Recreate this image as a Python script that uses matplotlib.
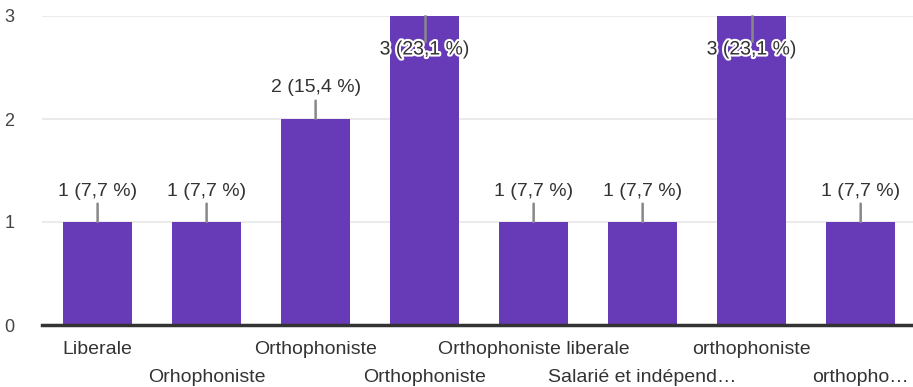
import matplotlib
matplotlib.use('Agg')
import matplotlib.pyplot as plt
import matplotlib.patheffects as pe

plt.rcParams['font.family'] = ['Liberation Sans', 'DejaVu Sans']

categories = ['Liberale', 'Orhophoniste', 'Orthophoniste', 'Orthophoniste',
              'Orthophoniste liberale', 'Salarié et indépend…', 'orthophoniste', 'orthopho…']
counts = [1, 1, 2, 3, 1, 1, 3, 1]
pct_labels = ['1 (7,7 %)', '1 (7,7 %)', '2 (15,4 %)', '3 (23,1 %)',
              '1 (7,7 %)', '1 (7,7 %)', '3 (23,1 %)', '1 (7,7 %)']
yticks = [0, 1, 2, 3]

fig = plt.figure(figsize=(9.13, 3.87), dpi=100)
ax = fig.add_axes([42/913, 62/387, 1 - 42/913, 309/387])

x = list(range(len(categories)))
ax.bar(x, counts, width=0.635, color='#673ab7', zorder=2)
ax.set_xlim(-0.51, 7.48)
ax.set_ylim(0, 3)

ax.set_yticks(yticks)
ax.set_yticklabels([str(v) for v in yticks], fontsize=13, color='#444444')
ax.grid(axis='y', color='#ebebeb', linewidth=1.5, zorder=0)
ax.tick_params(axis='y', length=0, pad=20)
ax.tick_params(axis='x', length=0)
for s in ['top', 'right', 'left']:
    ax.spines[s].set_visible(False)
ax.spines['bottom'].set_color('#333333')
ax.spines['bottom'].set_linewidth(2.5)
ax.spines['bottom'].set_zorder(3)
ax.set_xticks([])

fs = 14

# two-row category labels
for i, lab in enumerate(categories):
    yoff = -25 if i % 2 == 0 else -53
    ax.annotate(lab, (i, 0), xytext=(0, yoff), textcoords='offset pixels',
                ha='center', va='center', fontsize=fs, color='#333333',
                annotation_clip=False)

# value annotations with small stems
for i, (v, lab) in enumerate(zip(counts, pct_labels)):
    if v < 3:
        ax.annotate(lab, (i, v), xytext=(0, 31), textcoords='offset pixels',
                    ha='center', va='center', fontsize=fs, color='#333333',
                    arrowprops=dict(arrowstyle='-', color='#888888', lw=1.8,
                                    shrinkA=1, shrinkB=0), zorder=4)
    else:
        ax.plot([i, i], [3, 2.76], color='#888888', lw=1.8, zorder=4, clip_on=False)
        ax.annotate(lab, (i, v), xytext=(0, -34), textcoords='offset pixels',
                    ha='center', va='center', fontsize=fs, color='#333333',
                    path_effects=[pe.withStroke(linewidth=3, foreground='white')],
                    zorder=5)

fig.savefig('out.png', dpi=100)
